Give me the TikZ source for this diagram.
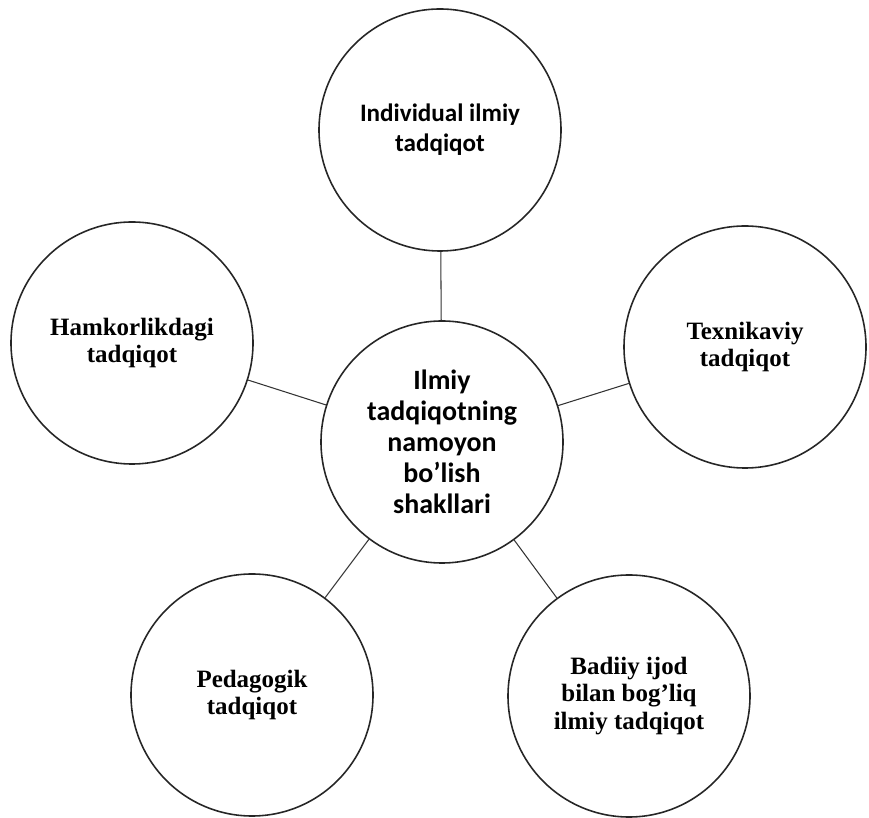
\documentclass[tikz,border=0pt]{standalone}
\usepackage{fontspec}
\setmainfont{Liberation Serif}
\newfontfamily\calibrifont{Carlito}

\begin{document}
\begin{tikzpicture}[
    form/.style={draw=black!85, line width=0.9pt, circle, minimum size=4.84cm, inner sep=0pt, align=center},
    serifform/.style={form, font=\fontsize{14.2}{15.5}\selectfont\bfseries},
    sansform/.style={form, font=\calibrifont\fontsize{14.3}{17}\selectfont\bfseries},
    link/.style={draw=black!80, line width=0.6pt}]
      \useasboundingbox (0,0) rectangle (17.38,16.34);
      % the main circle
      \node[form, font=\calibrifont\fontsize{15.9}{17.6}\selectfont\bfseries] (shakllar) at (8.84,7.50) {Ilmiy\\tadqiqotning\\namoyon\\bo’lish\\shakllari};
      % the five forms round it
      \node[sansform] (individual) at (8.80,13.74) {Individual ilmiy\\tadqiqot};
      \node[serifform] (hamkorlik) at (2.64,9.48) {Hamkorlikdagi\\tadqiqot};
      \node[serifform] (texnikaviy) at (14.90,9.40) {Texnikaviy\\tadqiqot};
      \node[serifform] (pedagogik) at (5.04,2.44) {Pedagogik\\tadqiqot};
      \node[serifform] (badiiy) at (12.58,2.42) {Badiiy ijod\\bilan bog’liq\\ilmiy tadqiqot};
      % links
      \draw[link] (shakllar) -- (individual);
      \draw[link] (shakllar) -- (hamkorlik);
      \draw[link] (shakllar) -- (texnikaviy);
      \draw[link] (shakllar) -- (pedagogik);
      \draw[link] (shakllar) -- (badiiy);
    \end{tikzpicture}
\end{document}
